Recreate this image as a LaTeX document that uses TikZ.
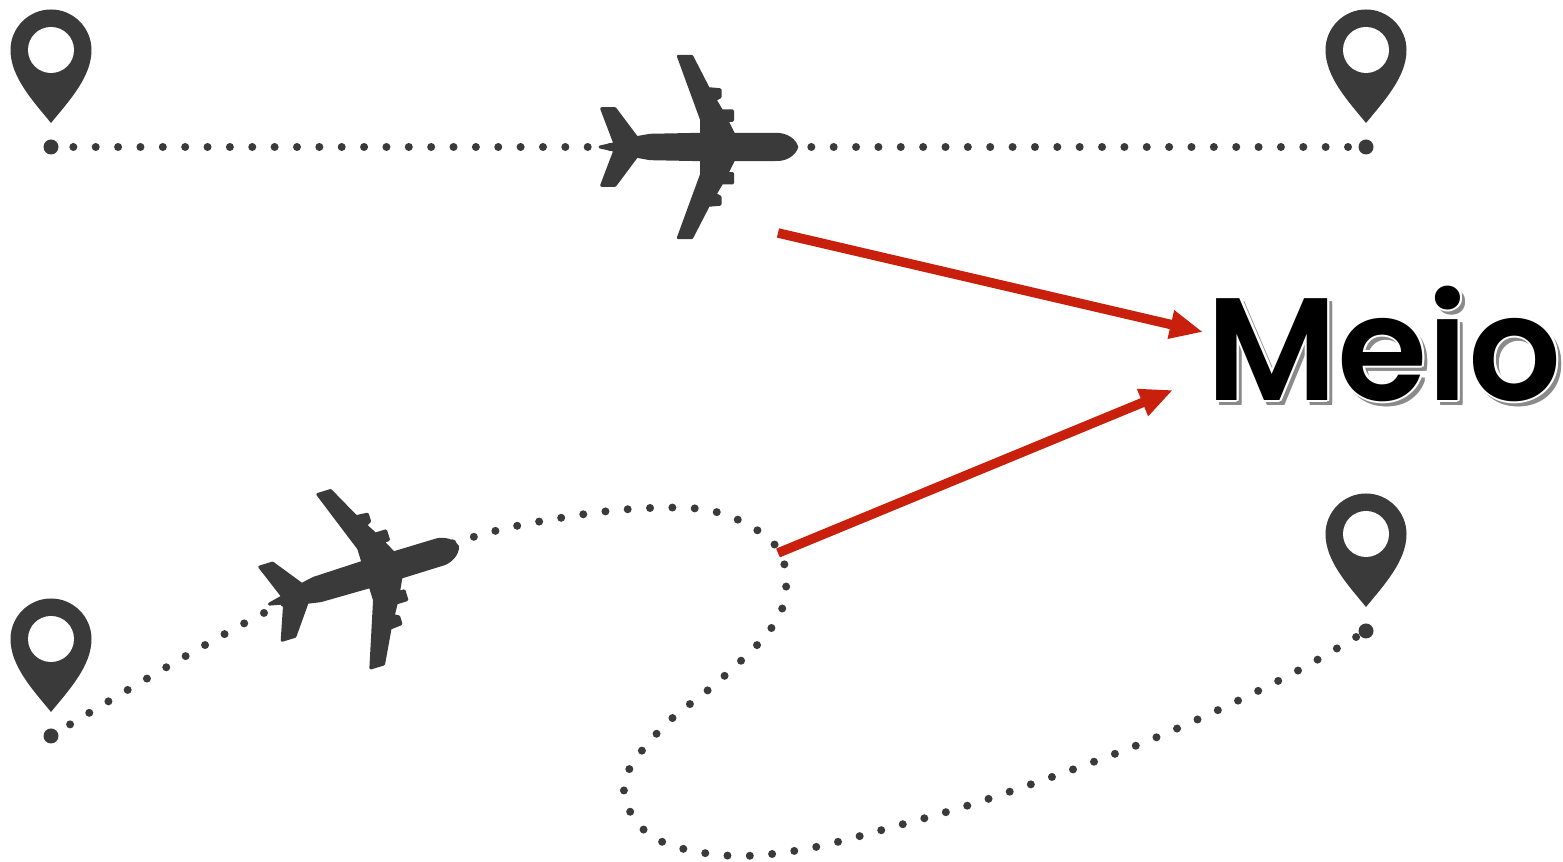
\documentclass[tikz,border=0pt]{standalone}
\usepackage{fontspec}
\usepackage{xcolor}
\usetikzlibrary{arrows.meta}
\newfontfamily\wordfont{Poppins SemiBold}
\definecolor{iconc}{HTML}{3A3A3A}
\definecolor{arrowc}{HTML}{C8200C}
\definecolor{shadowc}{HTML}{8A8A8A}
\tikzset{
  route/.style={draw=iconc, line width=0.08cm, line cap=round, dash pattern=on 0pt off 0.2235cm},
  icon/.style={fill=iconc, draw=iconc, line width=0.03cm, line join=round},
  pointer/.style={draw=arrowc, line width=0.095cm, -{Triangle[length=0.33cm,width=0.27cm]}},
  word/.style={inner sep=0pt, anchor=base west, font=\fontsize{41.5}{50}\wordfont},
  planeicon/.pic={
    \filldraw[icon] (80,0) .. controls (78,7) and (70,12) .. (62,12.5) -- (17,12.7) -- (10,26.7) -- (16,26.7) -- (16,36) -- (5,36) -- (-1.7,47.3) -- (3.3,50) -- (3.3,57.3) -- (-8.3,58.3) -- (-25,90.7) -- (-38.3,90.7) -- (-15,27) -- (-15,12.7) -- (-66.7,11.7) -- (-80,9.3) -- (-101.7,38.3) -- (-115,38.3) -- (-101.7,3.3) -- (-116.7,0)
    -- (-101.7,-3.3) -- (-115,-38.3) -- (-101.7,-38.3) -- (-80,-9.3) -- (-66.7,-11.7) -- (-15,-12.7) -- (-15,-27) -- (-38.3,-90.7) -- (-25,-90.7) -- (-8.3,-58.3) -- (3.3,-57.3) -- (3.3,-50) -- (-1.7,-47.3) -- (5,-36) -- (16,-36) -- (16,-26.7) -- (10,-26.7) -- (17,-12.7) -- (62,-12.5) .. controls (70,-12) and (78,-7) .. (80,0) -- cycle;
  },
  pinicon/.pic={
    \fill[fill=iconc] (0,-24) .. controls (-18,-46) and (-40.5,-70) .. (-40.5,-97) .. controls (-40.5,-119.3) and (-22.3,-137.5) .. (0,-137.5) .. controls (22.3,-137.5) and (40.5,-119.3) .. (40.5,-97) .. controls (40.5,-70) and (18,-46) .. (0,-24) -- cycle;
    \fill[white] (0,-97) circle (23);
    \fill[fill=iconc] (0,0) circle (7.5);
  },
}
\begin{document}
\begin{tikzpicture}[x=0.01cm,y=-0.01cm]
\useasboundingbox (0,0) rectangle (1563,862);
\coordinate (startA) at (51,147);
\coordinate (endA) at (1366,147);
\coordinate (startB) at (51,736);
\coordinate (endB) at (1366,631);
\coordinate (fromA) at (778,233);
\coordinate (toA) at (1203,332);
\coordinate (fromB) at (778,553);
\coordinate (toB) at (1173,390);
\draw[route] (startA) -- (endA);
\draw[route] plot[smooth,tension=0.6] coordinates {(startB) (280,605) (460,541) (560,518) (650,508) (720,513) (775,545) (786,590) (770,630) (720,680) (660,730) (624,785) (650,835) (720,855) (800,850) (900,825) (1000,795) (1150,740) (1280,680) (endB)};
\pic at (startA) {pinicon};
\pic at (endA) {pinicon};
\pic at (startB) {pinicon};
\pic at (endB) {pinicon};
\pic at (716.7,147) {planeicon};
\pic[rotate=17] at (381,570) {planeicon};
\draw[pointer] (fromA) -- (toA);
\draw[pointer] (fromB) -- (toB);
\foreach \dx/\dy [count=\i] in {5/5,3/5,5/3,3/3}
  \node[word, text=shadowc] (meioshadow\i) at (1206+\dx,400.5+\dy) {Meio};
\foreach \dx/\dy [count=\i] in {-2/0,2/0,0/-2,0/2,-1.5/-1.5,1.5/-1.5,-1.5/1.5,1.5/1.5}
  \node[word, text=white] (meiohalo\i) at (1206+\dx,400.5+\dy) {Meio};
\node[word] (meio) at (1206,400.5) {Meio};
\end{tikzpicture}
\end{document}
